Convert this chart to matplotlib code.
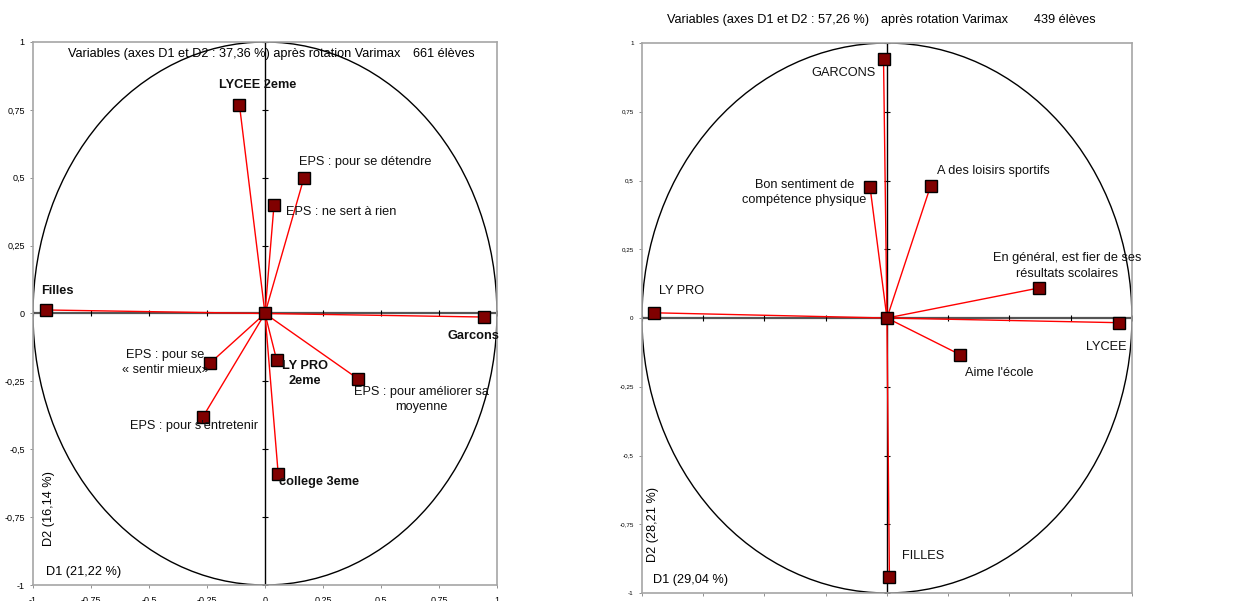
import numpy as np
import matplotlib.pyplot as plt
from matplotlib.patches import Ellipse

plt.rcParams['font.family'] = ['Liberation Sans', 'DejaVu Sans']

# --- left panel: 661 eleves ---
left_names = ["LYCEE 2eme", "EPS : pour se détendre", "EPS : ne sert à rien", "Filles",
              "Garcons", "EPS : pour se\n« sentir mieux»", "EPS : pour s'entretenir",
              "LY PRO\n2eme", "EPS : pour améliorer sa\nmoyenne", "college 3eme"]
left_d1 = [-0.11, 0.168, 0.039, -0.945, 0.944, -0.237, -0.267, 0.05, 0.40, 0.057]
left_d2 = [0.768, 0.50, 0.40, 0.013, -0.013, -0.183, -0.38, -0.17, -0.24, -0.59]
left_bold = [True, False, False, True, True, False, False, True, False, True]

# --- right panel: 439 eleves ---
right_names = ["GARCONS", "Bon sentiment de\ncompétence physique", "A des loisirs sportifs",
               "En général, est fier de ses\nrésultats scolaires", "LY PRO", "LYCEE",
               "Aime l'école", "FILLES"]
right_d1 = [-0.014, -0.069, 0.178, 0.619, -0.951, 0.947, 0.298, 0.01]
right_d2 = [0.943, 0.476, 0.48, 0.109, 0.019, -0.017, -0.133, -0.942]

tick_vals = [-1, -0.75, -0.5, -0.25, 0, 0.25, 0.5, 0.75, 1]
tick_text = ["-1", "-0,75", "-0,5", "-0,25", "0", "0,25", "0,5", "0,75", "1"]

# label placement (x, y, ha) in data coords
left_pos = [(-0.03, 0.84, 'center'), (0.147, 0.557, 'left'), (0.09, 0.374, 'left'),
            (-0.966, 0.083, 'left'), (1.01, -0.082, 'right'), (-0.43, -0.181, 'center'),
            (-0.306, -0.414, 'center'), (0.172, -0.22, 'center'), (0.673, -0.317, 'center'),
            (0.232, -0.62, 'center')]
right_pos = [(-0.045, 0.89, 'right'), (-0.336, 0.457, 'center'), (0.206, 0.536, 'left'),
             (0.737, 0.189, 'center'), (-0.93, 0.098, 'left'), (0.978, -0.104, 'right'),
             (0.318, -0.201, 'left'), (0.06, -0.864, 'left')]

FS = 9.2

fig = plt.figure(figsize=(12.58, 6.01), dpi=100)
ax1 = fig.add_axes([0.02623, 0.02662, 0.3688, 0.9035])
ax2 = fig.add_axes([0.5103, 0.01331, 0.3895, 0.9151])


def draw_panel(ax, xs, ys, names, pos, bold, tick_fs, xpad):
    ax.set_xlim(-1, 1)
    ax.set_ylim(-1, 1)
    for s in ax.spines.values():
        s.set_color('#a6a6a6')
        s.set_linewidth(1.2)
    ax.set_xticks(tick_vals)
    ax.set_xticklabels(tick_text)
    ax.set_yticks(tick_vals)
    ax.set_yticklabels(tick_text)
    ax.tick_params(length=2, width=0.6, color='#808080', labelsize=tick_fs, pad=4)
    ax.tick_params(axis='x', pad=xpad)

    # unit circle and central axes
    ax.add_patch(Ellipse((0, 0), 2, 2, fill=False, ec='black', lw=1.0, zorder=1))
    ax.axhline(0, color='#555555', lw=1.6, zorder=1)
    ax.axvline(0, color='black', lw=1.0, zorder=1)
    t = [v for v in tick_vals if v != 0]
    ax.plot(t, [0] * len(t), ls='none', marker='|', ms=5, color='black', mew=0.8, zorder=1)
    ax.plot([0] * len(t), t, ls='none', marker='_', ms=5, color='black', mew=0.8, zorder=1)

    for x, y in zip(xs, ys):
        ax.plot([0, x], [0, y], color='red', lw=1.0, zorder=2)
    ax.plot(xs + [0], ys + [0], ls='none', marker='s', ms=8.5, mfc='#800000',
            mec='black', mew=1.0, zorder=3)

    for name, (tx, ty, ha), b in zip(names, pos, bold):
        ax.text(tx, ty, name, ha=ha, va='center', fontsize=FS, multialignment='center',
                fontweight='bold' if b else 'normal', color='#111111', zorder=4,
                clip_on=False, linespacing=1.35)


draw_panel(ax1, left_d1, left_d2, left_names, left_pos, left_bold, 6.5, 6)
draw_panel(ax2, right_d1, right_d2, right_names, right_pos, [False] * len(right_names), 4.5, 4)

# titles and axis names
ax1.text(0.075, 0.978, "Variables (axes D1 et D2 : 37,36 %) après rotation Varimax",
         transform=ax1.transAxes, fontsize=FS, va='center', ha='left')
ax1.text(0.82, 0.978, "661 élèves", transform=ax1.transAxes, fontsize=FS, va='center', ha='left')
ax1.text(0.034, 0.141, "D2 (16,14 %)", transform=ax1.transAxes, fontsize=FS, rotation=90,
         va='center', ha='center')
ax1.text(0.027, 0.0245, "D1 (21,22 %)", transform=ax1.transAxes, fontsize=FS, va='center', ha='left')

fig.text(667 / 1258, 1 - 20 / 601, "Variables (axes D1 et D2 : 57,26 %)", fontsize=FS,
         va='center', ha='left')
fig.text(881 / 1258, 1 - 20 / 601, "après rotation Varimax", fontsize=FS, va='center', ha='left')
fig.text(1034 / 1258, 1 - 20 / 601, "439 élèves", fontsize=FS, va='center', ha='left')
ax2.text(0.023, 0.124, "D2 (28,21 %)", transform=ax2.transAxes, fontsize=FS, rotation=90,
         va='center', ha='center')
ax2.text(0.023, 0.024, "D1 (29,04 %)", transform=ax2.transAxes, fontsize=FS, va='center', ha='left')

fig.savefig("out.png", dpi=100, facecolor='white')
